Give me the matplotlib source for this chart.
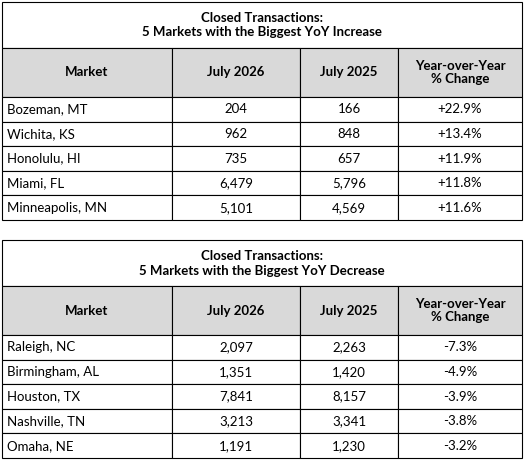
import matplotlib.pyplot as plt
from matplotlib.patches import Rectangle

plt.rcParams['font.family'] = ['Lato', 'DejaVu Sans']

headers = ["Market", "July 2026", "July 2025", "Year-over-Year\n% Change"]

inc_title = "Closed Transactions:\n5 Markets with the Biggest YoY Increase"
inc_markets = ["Bozeman, MT", "Wichita, KS", "Honolulu, HI", "Miami, FL", "Minneapolis, MN"]
inc_2026 = ["204", "962", "735", "6,479", "5,101"]
inc_2025 = ["166", "848", "657", "5,796", "4,569"]
inc_pct = ["+22.9%", "+13.4%", "+11.9%", "+11.8%", "+11.6%"]

dec_title = "Closed Transactions:\n5 Markets with the Biggest YoY Decrease"
dec_markets = ["Raleigh, NC", "Birmingham, AL", "Houston, TX", "Nashville, TN", "Omaha, NE"]
dec_2026 = ["2,097", "1,351", "7,841", "3,213", "1,191"]
dec_2025 = ["2,263", "1,420", "8,157", "3,341", "1,230"]
dec_pct = ["-7.3%", "-4.9%", "-3.9%", "-3.8%", "-3.2%"]

W, H = 525, 461
fig = plt.figure(figsize=(W / 100, H / 100), dpi=100)
ax = fig.add_axes([0, 0, 1, 1])
ax.set_xlim(0, W)
ax.set_ylim(H, 0)
ax.axis("off")

cols = [2, 172, 300, 398, 522]
fs = 9.5


def draw_table(top, title, markets, v26, v25, pct):
    title_h, head_h, row_h = 46, 49, 24.6
    lw = 0.8
    # title
    ax.add_patch(Rectangle((cols[0], top), cols[-1] - cols[0], title_h,
                           fc="white", ec="black", lw=lw))
    ax.text((cols[0] + cols[-1]) / 2, top + title_h / 2, title, ha="center",
            va="center", fontsize=fs, fontweight="bold", linespacing=1.3)
    # header
    y = top + title_h
    for i, h in enumerate(headers):
        ax.add_patch(Rectangle((cols[i], y), cols[i + 1] - cols[i], head_h,
                               fc="#d9d9d9", ec="black", lw=lw))
        ax.text((cols[i] + cols[i + 1]) / 2, y + head_h / 2, h, ha="center",
                va="center", fontsize=fs, fontweight="bold", linespacing=1.1)
    y += head_h
    for r in range(len(markets)):
        vals = [markets[r], v26[r], v25[r], pct[r]]
        for i, v in enumerate(vals):
            ax.add_patch(Rectangle((cols[i], y), cols[i + 1] - cols[i], row_h,
                                   fc="white", ec="black", lw=lw))
            if i == 0:
                ax.text(cols[i] + 5, y + row_h / 2, v, ha="left", va="center",
                        fontsize=fs)
            else:
                ax.text((cols[i] + cols[i + 1]) / 2, y + row_h / 2, v,
                        ha="center", va="center", fontsize=fs)
        y += row_h


draw_table(2, inc_title, inc_markets, inc_2026, inc_2025, inc_pct)
draw_table(240, dec_title, dec_markets, dec_2026, dec_2025, dec_pct)

fig.savefig("out.png", dpi=100)
